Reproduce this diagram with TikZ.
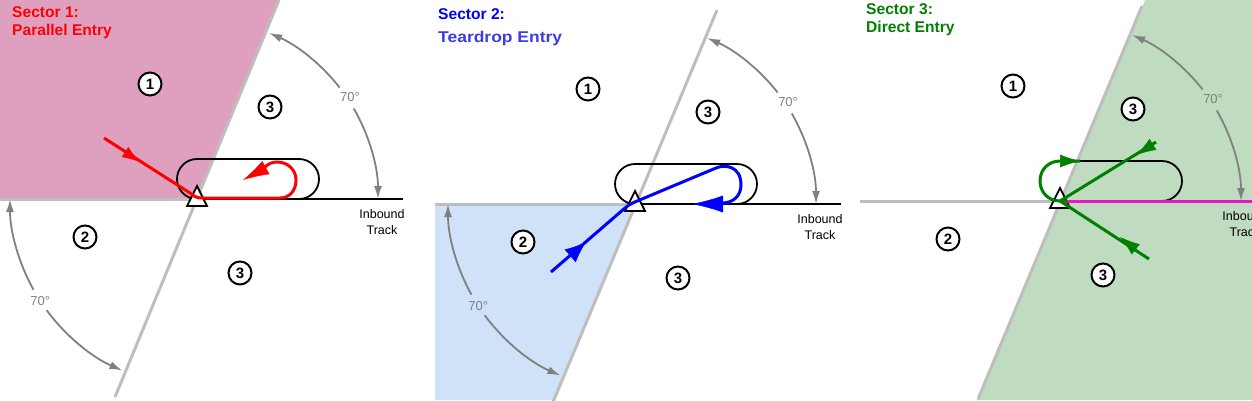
\documentclass[tikz,border=0pt]{standalone}
\usepackage{fontspec}
\setmainfont{Liberation Sans}
\newfontfamily\wideFont[FakeStretch=1.12]{Liberation Sans}
\usetikzlibrary{arrows.meta,calc}
\definecolor{sectorOneColor}{RGB}{223,160,192}
\definecolor{sectorTwoColor}{RGB}{208,226,248}
\definecolor{sectorThreeColor}{RGB}{192,220,192}
\definecolor{boundColor}{RGB}{190,190,190}
\definecolor{arcColor}{RGB}{128,128,128}
\definecolor{entryGreen}{RGB}{0,128,0}
\definecolor{trackMagenta}{RGB}{236,20,200}
\definecolor{teardropColor}{RGB}{60,60,225}

\begin{document}
\begin{tikzpicture}[x=1pt,y=1pt,
sectorNum/.style={
    draw, circle, fill=white, line width=2pt, minimum size=23pt,
    inner sep=0pt, font=\fontsize{15}{15}\selectfont\bfseries},
title/.style={
    anchor=west, inner sep=0pt, font=\fontsize{15.6}{15.6}\selectfont\bfseries},
boundLine/.style={boundColor, line width=3pt},
holdLine/.style={black, line width=1.8pt},
arcLine/.style={arcColor, line width=1.8pt, -{Latex[length=13pt,width=8pt]}},
arcLabel/.style={arcColor, inner sep=0pt, font=\fontsize{13}{13}\selectfont},
trackLabel/.style={align=center, inner sep=0pt, font=\fontsize{12.5}{16}\selectfont},
fixMark/.style={draw=black, fill=white, line width=1.8pt, line join=miter},
entryLine/.style={line width=3pt, line join=round, line cap=butt},
entryTip/.style={line width=0.5pt},
]

\useasboundingbox (0,-400) rectangle (1252,0);
\clip (0,-400) rectangle (1252,0);

% shaded sectors
\fill[sectorOneColor] (0,0) -- (279,0) -- (197,-199) -- (0,-199) -- cycle;
\fill[sectorTwoColor] (435,-204) -- (635,-204) -- (553,-400) -- (435,-400) -- cycle;
\fill[sectorThreeColor] (1145,0) -- (1252,0) -- (1252,-400) -- (977,-400) -- (1060,-201) -- cycle;

% the parts that every panel has
\foreach \p/\fx/\fy/\west/\top in {A/197/-199/197/199, B/635/-204/200/194, C/1060/-201/200/195}
{
\begin{scope}[shift={(\fx,\fy)}]
    \coordinate (fix\p) at (0,0);
    \draw[boundLine] (-\west,0) -- (fix\p);
    \draw[boundLine] (-82,-198) -- (82,\top);

    \draw[holdLine, rounded corners=20pt] (-20,0) rectangle (122,40);
    \draw[holdLine] (fix\p) -- (206,0);

    \draw[fixMark] (-10,-7) -- (0,13) -- (10,-7) -- cycle;

    \node[sectorNum] (one\p) at (-47,115) {1};
    \node[sectorNum] (threeUp\p) at (73,92) {3};
    \node[sectorNum] (two\p) at (-112,-38) {2};
    \node[sectorNum] (threeDown\p) at (43,-74) {3};

    \draw[arcLine] (30:181) arc (30:0:181);
    \draw[arcLine] (38:181) arc (38:66.5:181);
    \node[arcLabel] (upAngle\p) at (33.7:184) {70°};

    \node[trackLabel] (inbound\p) at (185,-23) {Inbound\\Track};
\end{scope}
}

% lower 70 degree arcs
\begin{scope}[shift={(fixA)}]
    \draw[arcLine] (209:187) arc (209:180:187);
    \draw[arcLine] (216.5:187) arc (216.5:246.5:187);
    \node[arcLabel] (lowAngleA) at (213:187) {70°};
\end{scope}
\begin{scope}[shift={(fixB)}]
    \draw[arcLine] (209:187) arc (209:180:187);
    \draw[arcLine] (216.5:187) arc (216.5:246.5:187);
    \node[arcLabel] (lowAngleB) at (213:187) {70°};
\end{scope}

% sector 1
\node[title, red] (titleA) at (12,-12) {Sector 1:};
\node[title, red] (nameA) at (12,-31) {Parallel Entry};
\coordinate (redStart) at (104,-138);
\coordinate (redEnd) at (243,-180);
\draw[entryLine, red] (redStart) -- (190,-193) .. controls (195,-197) and (197,-198) .. (203,-198)
    -- (280,-198) .. controls (290,-198) and (296,-190) .. (296,-180)
    .. controls (296,-170) and (288,-162) .. (277,-162)
    .. controls (272,-162) and (268,-164) .. (265,-167);
\draw[entryTip, red, -{Latex[length=18pt,width=12pt]}] (125,-152) -- (140,-162);
\draw[entryTip, red, -{Latex[length=26pt,width=15pt]}] (267,-167) -- (redEnd);

% sector 2
\node[title, blue] (titleB) at (438,-14) {Sector 2:};
\node[title, teardropColor, font=\fontsize{15.6}{15.6}\selectfont\wideFont\bfseries] (nameB) at (438,-38) {Teardrop Entry};
\coordinate (blueStart) at (551,-272);
\coordinate (blueEnd) at (692,-204);
\draw[entryLine, blue] (blueStart) -- (625,-208) .. controls (631,-203) and (635,-202) .. (642,-199)
    -- (716,-168) .. controls (725,-164) and (741,-166) .. (741,-185)
    .. controls (741,-196) and (733,-203) .. (722,-203);
\draw[entryTip, blue, -{Latex[length=21pt,width=17pt]}] (570,-256) -- (586,-242);
\draw[entryTip, blue, -{Latex[length=31pt,width=17pt]}] (723,-204) -- (blueEnd);

% sector 3
\node[title, entryGreen] (titleC) at (866,-9) {Sector 3:};
\node[title, entryGreen] (nameC) at (866,-28) {Direct Entry};
\draw[line width=3pt, trackMagenta] (1067,-201) -- (1252,-201);
\coordinate (greenUp) at (1156,-142);
\coordinate (greenDown) at (1149,-259);
\coordinate (greenLoop) at (1080,-161);
\draw[entryLine, entryGreen] (greenUp) -- (fixC);
\draw[entryLine, entryGreen] (greenDown) -- (fixC);
\draw[entryLine, entryGreen] (1067,-201) -- (1060,-201) .. controls (1048,-201) and (1040,-192) .. (1040,-181)
    .. controls (1040,-169) and (1049,-161) .. (1060,-161) -- (greenLoop);
\draw[entryTip, entryGreen, -{Latex[length=20pt,width=13pt]}] (1152,-145) -- (1136,-155);
\draw[entryTip, entryGreen, -{Latex[length=20pt,width=13pt]}] (1134,-248) -- (1120,-237);
\draw[entryTip, entryGreen, -{Latex[length=20pt,width=13pt]}] (1060,-161) -- (1080,-161);

\end{tikzpicture}
\end{document}
